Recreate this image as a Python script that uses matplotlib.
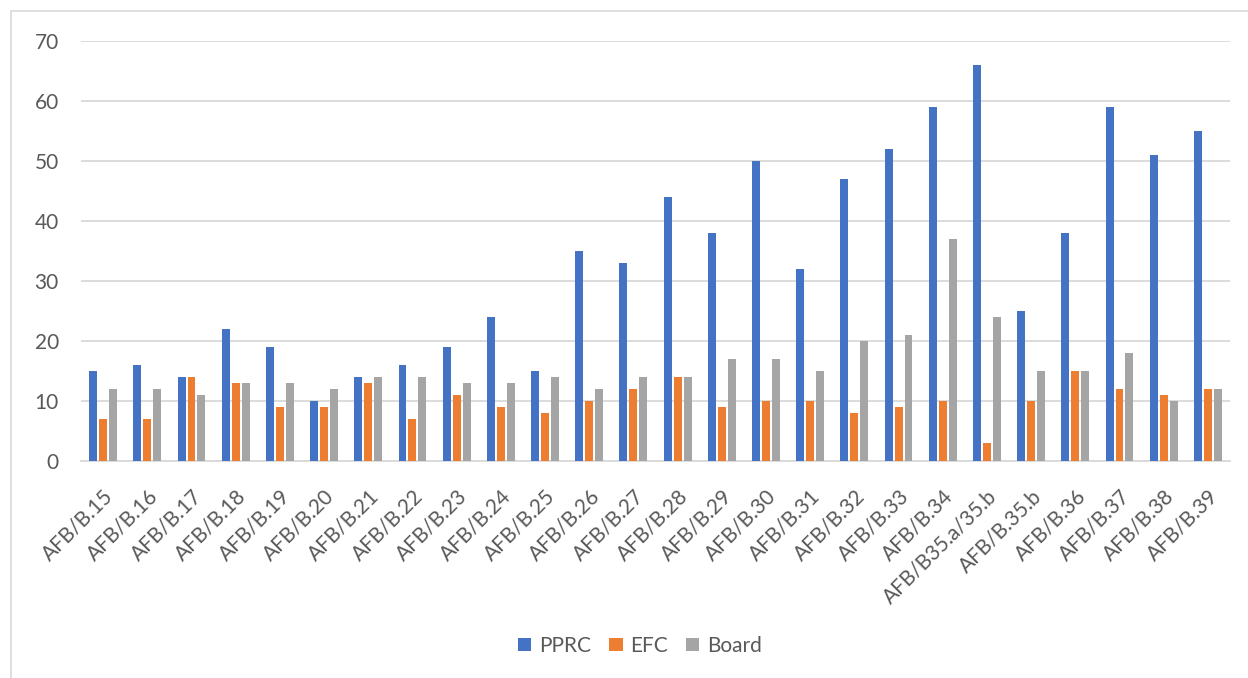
import matplotlib
matplotlib.use("Agg")
import matplotlib.pyplot as plt
import numpy as np
from matplotlib.patches import Rectangle

categories = ["AFB/B.15", "AFB/B.16", "AFB/B.17", "AFB/B.18", "AFB/B.19", "AFB/B.20",
              "AFB/B.21", "AFB/B.22", "AFB/B.23", "AFB/B.24", "AFB/B.25", "AFB/B.26",
              "AFB/B.27", "AFB/B.28", "AFB/B.29", "AFB/B.30", "AFB/B.31", "AFB/B.32",
              "AFB/B.33", "AFB/B.34", "AFB/B35.a/35.b", "AFB/B.35.b", "AFB/B.36",
              "AFB/B.37", "AFB/B.38", "AFB/B.39"]
pprc = [15, 16, 14, 22, 19, 10, 14, 16, 19, 24, 15, 35, 33, 44, 38, 50, 32, 47, 52, 59, 66, 25, 38, 59, 51, 55]
efc = [7, 7, 14, 13, 9, 9, 13, 7, 11, 9, 8, 10, 12, 14, 9, 10, 10, 8, 9, 10, 3, 10, 15, 12, 11, 12]
board = [12, 12, 11, 13, 13, 12, 14, 14, 13, 13, 14, 12, 14, 14, 17, 17, 15, 20, 21, 37, 24, 15, 15, 18, 10, 12]
series_names = ["PPRC", "EFC", "Board"]
colors = ["#4472C4", "#ED7D31", "#A5A5A5"]
yticks = [0, 10, 20, 30, 40, 50, 60, 70]

plt.rcParams["font.family"] = ["Lato", "DejaVu Sans"]
text_color = "#595959"
grid_color = "#D9D9D9"

fig = plt.figure(figsize=(12.48, 6.78), dpi=100)
ax = fig.add_axes([81 / 1248, 1 - 461 / 678, (1230 - 81) / 1248, (461 - 41) / 678])

# Outer chart border
fig.patches.append(Rectangle((11 / 1248, -0.01), 1.2, 1 - 11 / 678 + 0.01,
                             transform=fig.transFigure, fill=False,
                             edgecolor=grid_color, linewidth=1.2))

x = np.arange(len(categories))
width = 0.18
step = 0.225
for i, (vals, name, c) in enumerate(zip([pprc, efc, board], series_names, colors)):
    ax.bar(x + (i - 1) * step, vals, width=width, color=c, label=name, zorder=3)

ax.set_xlim(-0.5, len(categories) - 0.5)
ax.set_ylim(0, 70)
ax.set_yticks(yticks)
ax.yaxis.grid(True, color=grid_color, linewidth=1.3, zorder=0)
ax.set_axisbelow(True)
for side in ["top", "right", "left"]:
    ax.spines[side].set_visible(False)
ax.spines["bottom"].set_color(grid_color)
ax.spines["bottom"].set_linewidth(1.3)
ax.tick_params(axis="both", length=0, colors=text_color, labelsize=15)
ax.tick_params(axis="y", pad=16)
ax.set_xticks(x)
ax.set_xticklabels(categories, rotation=45, ha="right", rotation_mode="anchor")
ax.tick_params(axis="x", pad=18)

leg = fig.legend(loc="center", bbox_to_anchor=(0.513, 1 - 646 / 678), ncol=3,
                 frameon=False, fontsize=15, handlelength=0.63, handleheight=0.63,
                 handletextpad=0.38, columnspacing=0.87)
for t in leg.get_texts():
    t.set_color(text_color)

fig.savefig("out.png", dpi=100)
